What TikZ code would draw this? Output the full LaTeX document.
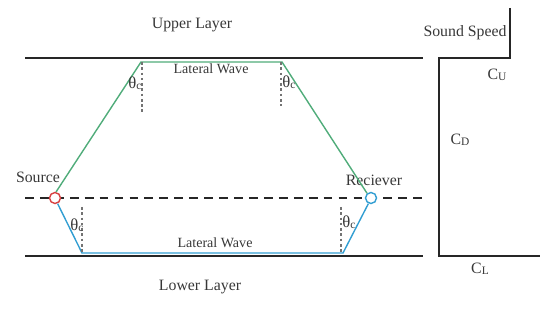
\documentclass[tikz,border=0pt]{standalone}
\usepackage{fontspec}
\setmainfont{Liberation Serif}
\usetikzlibrary{positioning}
\definecolor{wavegreen}{RGB}{80,172,122}
\definecolor{waveblue}{RGB}{50,158,210}
\definecolor{srcred}{RGB}{215,65,65}
\definecolor{labelgray}{RGB}{55,55,55}

\begin{document}
\begin{tikzpicture}[x=0.02cm,y=-0.02cm,
    font=\fontsize{9}{10}\selectfont, text=labelgray,
    layer/.style={line width=1pt, black!85},
    ray/.style={line width=0.8pt},
    critical/.style={gray!90!black, line width=0.6pt, dash pattern=on 1.5pt off 1.5pt},
    port/.style={circle, line width=0.8pt, inner sep=0pt, minimum size=0.22cm, fill=white},
    small/.style={font=\fontsize{8}{9}\selectfont},
    angle/.style={font=\fontsize{9.5}{10}\selectfont}]
  \useasboundingbox (0,0) rectangle (540,327);
  \def\sub#1{\raisebox{-0.5pt}{\fontsize{6.5}{7}\selectfont #1}}

  % layer boundaries and source depth
  \draw[layer] (25,58) -- (423,58);
  \draw[layer] (25,256) -- (423,256);
  \draw[black!85, line width=1.1pt, dash pattern=on 5pt off 3.5pt] (25,198) -- (423,198);

  \node at (192,25) {Upper Layer};
  \node at (200,287) {Lower Layer};

  % sound speed profile
  \draw[layer] (510,8) -- (510,58) -- (439,58) -- (439,256) -- (540,256);
  \node at (465,33) {Sound Speed};
  \node at (497,75) {C\sub{U}};
  \node at (460,140) {C\sub{D}};
  \node at (480,269) {C\sub{L}};

  % source and receiver
  \node[port, draw=srcred] (src) at (55,198) {};
  \node[port, draw=waveblue] (rcv) at (371,198) {};
  \node at (38,177) {Source};
  \node at (374,180) {Reciever};

  % turning points of the lateral waves
  \coordinate (gL) at (141,62);
  \coordinate (gR) at (282,62);
  \coordinate (bL) at (82,253);
  \coordinate (bR) at (343,253);

  % lateral wave along the upper boundary
  \draw[ray, wavegreen] (src.80) -- (gL) -- (gR) -- (rcv.130);
  \node[small] at (211,69) {Lateral Wave};

  % lateral wave along the lower boundary
  \draw[ray, waveblue] (src.-65) -- (bL) -- (bR) -- (rcv.-115);
  \node[small] at (215,243) {Lateral Wave};

  % normals at the critical angle
  \draw[critical] (142,62) -- (142,112);
  \draw[critical] (281,62) -- (281,106);
  \draw[critical] (82,207) -- (82,253);
  \draw[critical] (341,207) -- (341,253);
  \foreach \x/\y in {135/83, 289/82, 77/225, 349/222}{
    \node[angle] at (\x,\y) {θ\sub{c}};
  }
\end{tikzpicture}
\end{document}
